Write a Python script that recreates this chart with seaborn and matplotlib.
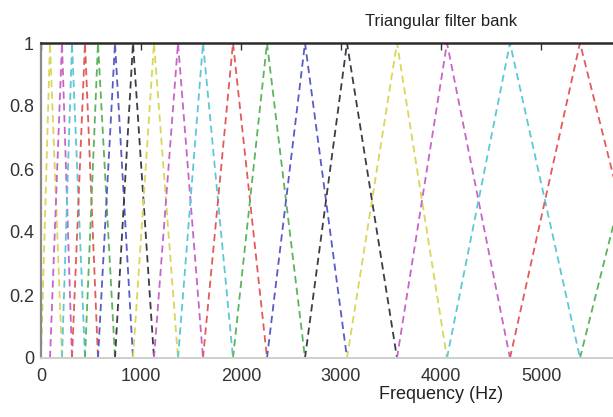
"""
三角滤波器组（Mel 刻度）示意图
"""
import numpy as np
import pandas as pd
import matplotlib
matplotlib.use("Agg")
import matplotlib.pyplot as plt
import matplotlib.ticker as ticker
import seaborn as sns

# 各滤波器中心频率 (Hz)，首尾为边界
EDGES_HZ = [0, 90, 210, 310, 440, 570, 740, 920, 1130, 1370, 1620, 1920,
            2260, 2640, 3060, 3560, 4060, 4690, 5390, 6180, 7050]
PEAK_GAIN = [0, 1, 0]

# MATLAB 风格循环配色 (y m c r g b k)，偏淡
CYCLE = ["#d9d65a", "#c864c8", "#5cc8d6", "#e45a5a", "#5cb45c", "#5a5ac8", "#3c3c46"]

X_TICKS = [0, 1000, 2000, 3000, 4000, 5000]
Y_TICKS = [0, 0.2, 0.4, 0.6, 0.8, 1]

rows = []
for i in range(1, len(EDGES_HZ) - 1):
    for f, g in zip(EDGES_HZ[i - 1:i + 2], PEAK_GAIN):
        rows.append({"filt": i, "freq": f, "gain": g})
df = pd.DataFrame(rows)
n_filt = df["filt"].nunique()
palette = {k: CYCLE[(k - 1) % len(CYCLE)] for k in range(1, n_filt + 1)}
dashes = {k: (4, 2.5) for k in range(1, n_filt + 1)}

sns.set_style("white")
plt.rcParams["font.family"] = ["Liberation Sans", "DejaVu Sans"]

fig = plt.figure(figsize=(6.13, 4.17), dpi=100)
# 原图右侧被裁掉，坐标轴延伸到画布外 (0-8000 Hz)
ax = fig.add_axes([41 / 613, 59 / 417, 800 / 613, 315 / 417])

sns.lineplot(data=df, x="freq", y="gain", hue="filt", style="filt",
             palette=palette, dashes=dashes, sort=False, estimator=None,
             linewidth=1.3, legend=False, ax=ax)

ax.set_xlim(0, 8000)
ax.set_ylim(0, 1)
ax.set_xticks(X_TICKS)
ax.set_yticks(Y_TICKS)
ax.yaxis.set_major_formatter(ticker.FuncFormatter(lambda v, _: f"{v:g}"))
ax.tick_params(direction="in", length=5, width=1, colors="#333333",
               labelsize=13, top=True, right=True)
ax.tick_params(axis="x", pad=7)
ax.tick_params(axis="y", pad=5)

ax.spines["top"].set_color("#2a2a2a")
ax.spines["top"].set_linewidth(1.8)
ax.spines["left"].set_color("#8a8a8a")
ax.spines["left"].set_linewidth(1.6)
ax.spines["bottom"].set_color("#cfcfcf")
ax.spines["bottom"].set_linewidth(1.4)

ax.set_title("Triangular filter bank", fontsize=12, color="#222222", pad=12)
ax.set_xlabel("Frequency (Hz)", fontsize=13, color="#222222", labelpad=1)
ax.set_ylabel("")

fig.savefig("out.png", dpi=100, facecolor="white")
plt.close(fig)
